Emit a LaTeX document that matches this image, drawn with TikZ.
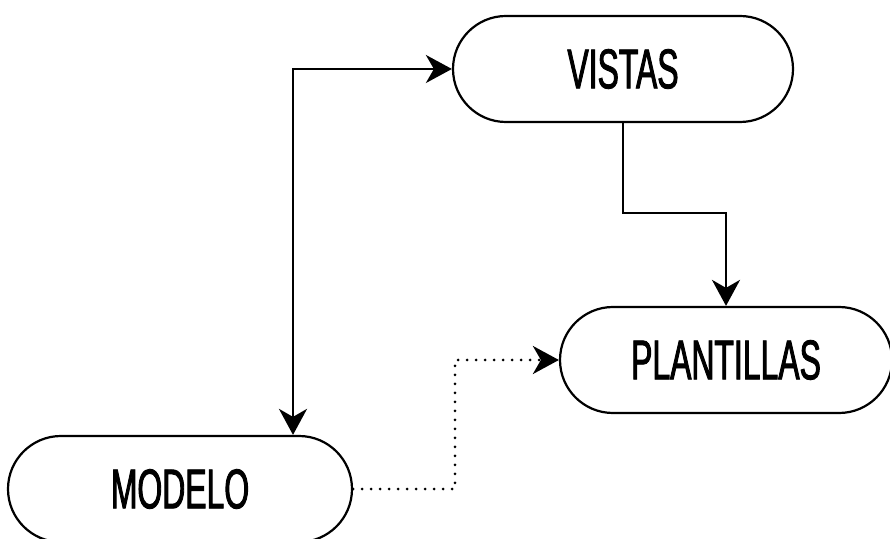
\documentclass[tikz,border=0pt]{standalone}
\usepackage{fontspec}
\setmainfont[FakeStretch=0.57,FakeBold=1.6]{Liberation Sans}
\usetikzlibrary{shapes.misc,arrows.meta,calc}
\begin{document}
\begin{tikzpicture}[x=1pt,y=1pt,
  pill/.style={draw=black,line width=2.2pt,rounded rectangle,minimum height=106pt,inner sep=0pt,font=\fontsize{56}{60}\selectfont},
  conn/.style={line width=2.8pt,-{Stealth[length=26pt,width=28pt,inset=8pt]}},
  dotline/.style={line width=3pt,line cap=round,dash pattern=on 0pt off 9pt,-{Stealth[length=26pt,width=28pt,inset=8pt]}}]
\useasboundingbox (0,0) rectangle (890,538);
\node[pill,minimum width=340pt] (VISTAS) at (623,469) {VISTAS};
\node[pill,minimum width=332pt] (PLANTILLAS) at (726,178) {PLANTILLAS};
\node[pill,minimum width=344pt] (MODELO) at (180,49) {MODELO};
\coordinate (c1) at (293,469);
\draw[conn,{Stealth[length=26pt,width=28pt,inset=8pt]}-{Stealth[length=26pt,width=28pt,inset=8pt]}] (MODELO.north -| c1) |- (VISTAS.west);
\coordinate (c2) at (623,325);
\draw[conn] (VISTAS.south) -- (c2) -| (PLANTILLAS.north);
\coordinate (d1) at (455,49);
\draw[dotline] (MODELO.east) -- (d1) |- (PLANTILLAS.west);
\end{tikzpicture}
\end{document}
